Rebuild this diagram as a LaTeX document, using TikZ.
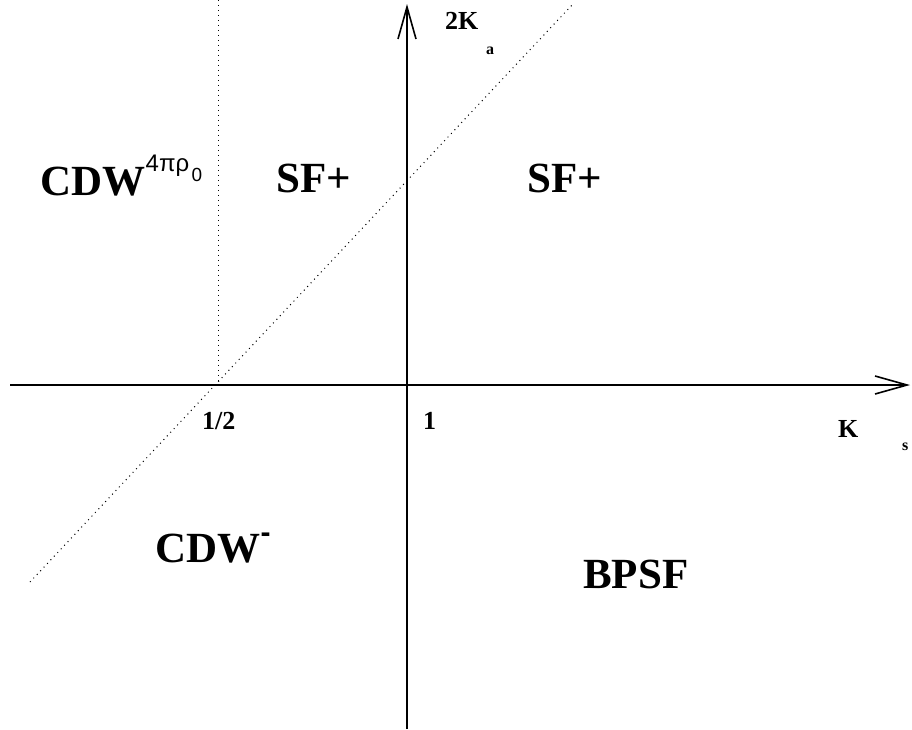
\documentclass[tikz,border=0pt]{standalone}
\usepackage{fontspec}
\setmainfont{Liberation Serif}
\newfontfamily\supfont{Liberation Sans}
\usetikzlibrary{arrows.meta}

\begin{document}
\begin{tikzpicture}[
    x=1pt, y=-1pt,
    axis/.style={line width=2pt, -{Straight Barb[length=32pt, width=18pt, line width=1.6pt]}},
    guide/.style={line width=1pt, dash pattern=on 1pt off 4pt},
    region/.style={font=\fontsize{43}{43}\selectfont\bfseries, inner sep=0pt, anchor=base west},
    tick/.style={font=\fontsize{26}{26}\selectfont\bfseries, inner sep=0pt, anchor=base west},
    sub/.style={font=\fontsize{16}{16}\selectfont\bfseries, inner sep=0pt, anchor=base west}
  ]
    \useasboundingbox (0,0) rectangle (912,729);
    % axes
    \coordinate (vlo) at (407,729);
    \coordinate (vhi) at (407,4);
    \coordinate (hlo) at (10,385);
    \coordinate (hhi) at (910,385);
    \draw[axis] (vlo) -- (vhi);
    \draw[axis] (hlo) -- (hhi);
    % boundaries
    \coordinate (half) at (218,385);
    \coordinate (dtop) at (218,0);
    \coordinate (dlo) at (30,582);
    \coordinate (dhi) at (572,5);
    \draw[guide] (dtop) -- (half);
    \draw[guide] (dlo) -- (dhi);
    % axis labels
    \node[tick] (ka) at (445,29) {2K};
    \node[sub] (kasub) at (486,54) {a};
    \node[tick] (ks) at (838,437) {K};
    \node[sub] (kssub) at (902,450) {s};
    \node[tick] (thalf) at (202,429) {1/2};
    \node[tick] (tone) at (423,429) {1};
    % regions
    \node[region] (cdwp) at (40,195) {CDW};
    \node[font=\fontsize{24}{24}\supfont, inner sep=0pt, anchor=base west] (cdwexp) at (cdwp.base east) [yshift=24pt] {4πρ};
    \node[font=\fontsize{19}{19}\supfont, inner sep=0pt, anchor=base west] (cdwzero) at (cdwexp.base east) [xshift=2pt, yshift=-10pt] {0};
    \node[region] (sfl) at (276,192) {SF+};
    \node[region] (sfr) at (527,192) {SF+};
    \node[region] (cdwm) at (155,562) {CDW};
    \node[font=\fontsize{30}{30}\supfont\bfseries, inner sep=0pt, anchor=base west] (cdwmexp) at (cdwm.base east) [yshift=20pt] {-};
    \node[region] (bpsf) at (583,588) {BPSF};
\end{tikzpicture}
\end{document}
